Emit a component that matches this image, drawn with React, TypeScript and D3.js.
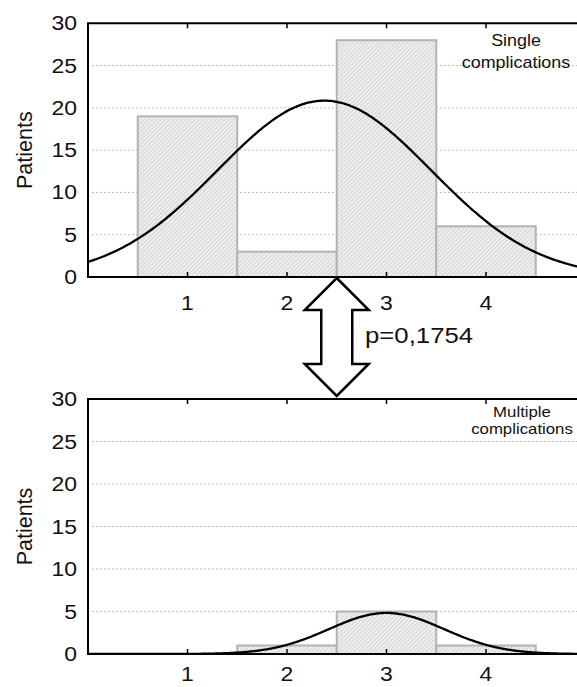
import React from "react";
import * as d3 from "d3";

const categories = [1, 2, 3, 4];
const singleCounts = [19, 3, 28, 6];
const multipleCounts = [0, 1, 5, 1];
const yTicks = [0, 5, 10, 15, 20, 25, 30];
const gridTicks = [5, 10, 15, 20, 25];
const singleLabel = ["Single", "complications"];
const multipleLabel = ["Multiple", "complications"];
const pValueText = "p=0,1754";
const yAxisTitle = "Patients";

const W = 577;
const H = 687;
const FONT = "'Liberation Sans', Arial, Helvetica, sans-serif";
const SX = 1.12;

const xScale = d3.scaleLinear().domain([0, 5]).range([88, 585.5]);

function fitNormal(counts: number[]) {
  const n = d3.sum(counts);
  const mean = d3.sum(counts, (c, i) => c * categories[i]) / n;
  const ss = d3.sum(counts, (c, i) => c * (categories[i] - mean) ** 2);
  const sd = Math.sqrt(ss / (n - 1));
  return { n, mean, sd };
}

function STxt(props: {
  x: number;
  y: number;
  size: number;
  anchor?: string;
  children: React.ReactNode;
}) {
  return (
    <text
      transform={`translate(${props.x},${props.y}) scale(${SX},1)`}
      fontFamily={FONT}
      fontSize={props.size}
      textAnchor={props.anchor || "middle"}
      fill="#111"
    >
      {props.children}
    </text>
  );
}

function Panel(props: {
  counts: number[];
  y0: number;
  y30: number;
  label: string[];
  labelX: number;
  labelY: number[];
  labelSize: number;
  xLabelY: number;
  id: string;
}) {
  const { counts, y0, y30 } = props;
  const y = d3.scaleLinear().domain([0, 30]).range([y0, y30]);
  const { n, mean, sd } = fitNormal(counts);
  const xs = d3.range(0, 5.0001, 0.02);
  const line = d3
    .line<number>()
    .x((v) => xScale(v))
    .y((v) => y((n / (sd * Math.sqrt(2 * Math.PI))) * Math.exp(-0.5 * ((v - mean) / sd) ** 2)))
    .curve(d3.curveMonotoneX);
  const left = xScale(0);
  return (
    <g>
      <defs>
        <clipPath id={"clip" + props.id}>
          <rect x={left} y={y30 - 1} width={W - left} height={y0 - y30 + 1} />
        </clipPath>
      </defs>
      {gridTicks.map((t) => (
        <line
          key={t}
          x1={left + 4}
          x2={W}
          y1={y(t)}
          y2={y(t)}
          stroke="#bdbdbd"
          strokeWidth={1}
          strokeDasharray="2,2"
        />
      ))}
      {categories.map((c, i) =>
        counts[i] > 0 ? (
          <rect
            key={c}
            x={xScale(c - 0.5)}
            y={y(counts[i])}
            width={xScale(c + 0.5) - xScale(c - 0.5)}
            height={y0 - y(counts[i])}
            fill="url(#hatch)"
            stroke="#b3b3b3"
            strokeWidth={2}
          />
        ) : null
      )}
      <path d={line(xs) || ""} fill="none" stroke="#000" strokeWidth={2.3} clipPath={`url(#clip${props.id})`} />
      <line x1={left} x2={left} y1={y30} y2={y0} stroke="#000" strokeWidth={2} />
      <line x1={left - 1} x2={W} y1={y0} y2={y0} stroke="#000" strokeWidth={2.2} />
      <line x1={left - 1} x2={W} y1={y30} y2={y30} stroke="#000" strokeWidth={2} />
      {categories.map((c) => (
        <g key={c}>
          <line x1={xScale(c)} x2={xScale(c)} y1={y0} y2={y0 - 5} stroke="#000" strokeWidth={1.5} />
          <line x1={xScale(c)} x2={xScale(c)} y1={y30} y2={y30 + 5} stroke="#000" strokeWidth={1.5} />
          <STxt x={xScale(c)} y={props.xLabelY} size={20.5}>
            {c}
          </STxt>
        </g>
      ))}
      {yTicks.map((t) => (
        <STxt key={t} x={77} y={y(t) + 7} size={20.5} anchor="end">
          {t}
        </STxt>
      ))}
      <text
        transform={`translate(32,${(y0 + y30) / 2}) rotate(-90)`}
        fontFamily={FONT}
        fontSize={21.5}
        textAnchor="middle"
        fill="#111"
      >
        {yAxisTitle}
      </text>
      {props.label.map((s, i) => (
        <STxt key={i} x={props.labelX} y={props.labelY[i]} size={props.labelSize}>
          {s}
        </STxt>
      ))}
    </g>
  );
}

export default function App() {
  const ax = xScale(2.5);
  const arrowPts = [
    [ax, 278],
    [ax + 32, 310],
    [ax + 15.5, 310],
    [ax + 15.5, 364],
    [ax + 32, 364],
    [ax, 396],
    [ax - 32, 364],
    [ax - 15.5, 364],
    [ax - 15.5, 310],
    [ax - 32, 310],
  ];
  return (
    <svg
      width={W}
      height={H}
      style={{ position: "absolute", left: 0, top: 0, background: "#fff" }}
    >
      <defs>
        <pattern id="hatch" patternUnits="userSpaceOnUse" width={3} height={3} patternTransform="rotate(45)">
          <rect width={3} height={3} fill="#efefef" />
          <line x1={0} y1={0} x2={0} y2={3} stroke="#bfbfbf" strokeWidth={1.2} />
        </pattern>
      </defs>
      <rect width={W} height={H} fill="#fff" />
      <Panel
        id="a"
        counts={singleCounts}
        y0={277}
        y30={23.3}
        label={singleLabel}
        labelX={516}
        labelY={[46, 68]}
        labelSize={16}
        xLabelY={310}
      />
      <Panel
        id="b"
        counts={multipleCounts}
        y0={654}
        y30={399}
        label={multipleLabel}
        labelX={522}
        labelY={[417, 434]}
        labelSize={15}
        xLabelY={681}
      />
      <polygon
        points={arrowPts.map((p) => p.join(",")).join(" ")}
        fill="#fff"
        stroke="#000"
        strokeWidth={2.5}
        strokeLinejoin="miter"
      />
      <STxt x={365} y={343} size={23} anchor="start">
        {pValueText}
      </STxt>
    </svg>
  );
}
